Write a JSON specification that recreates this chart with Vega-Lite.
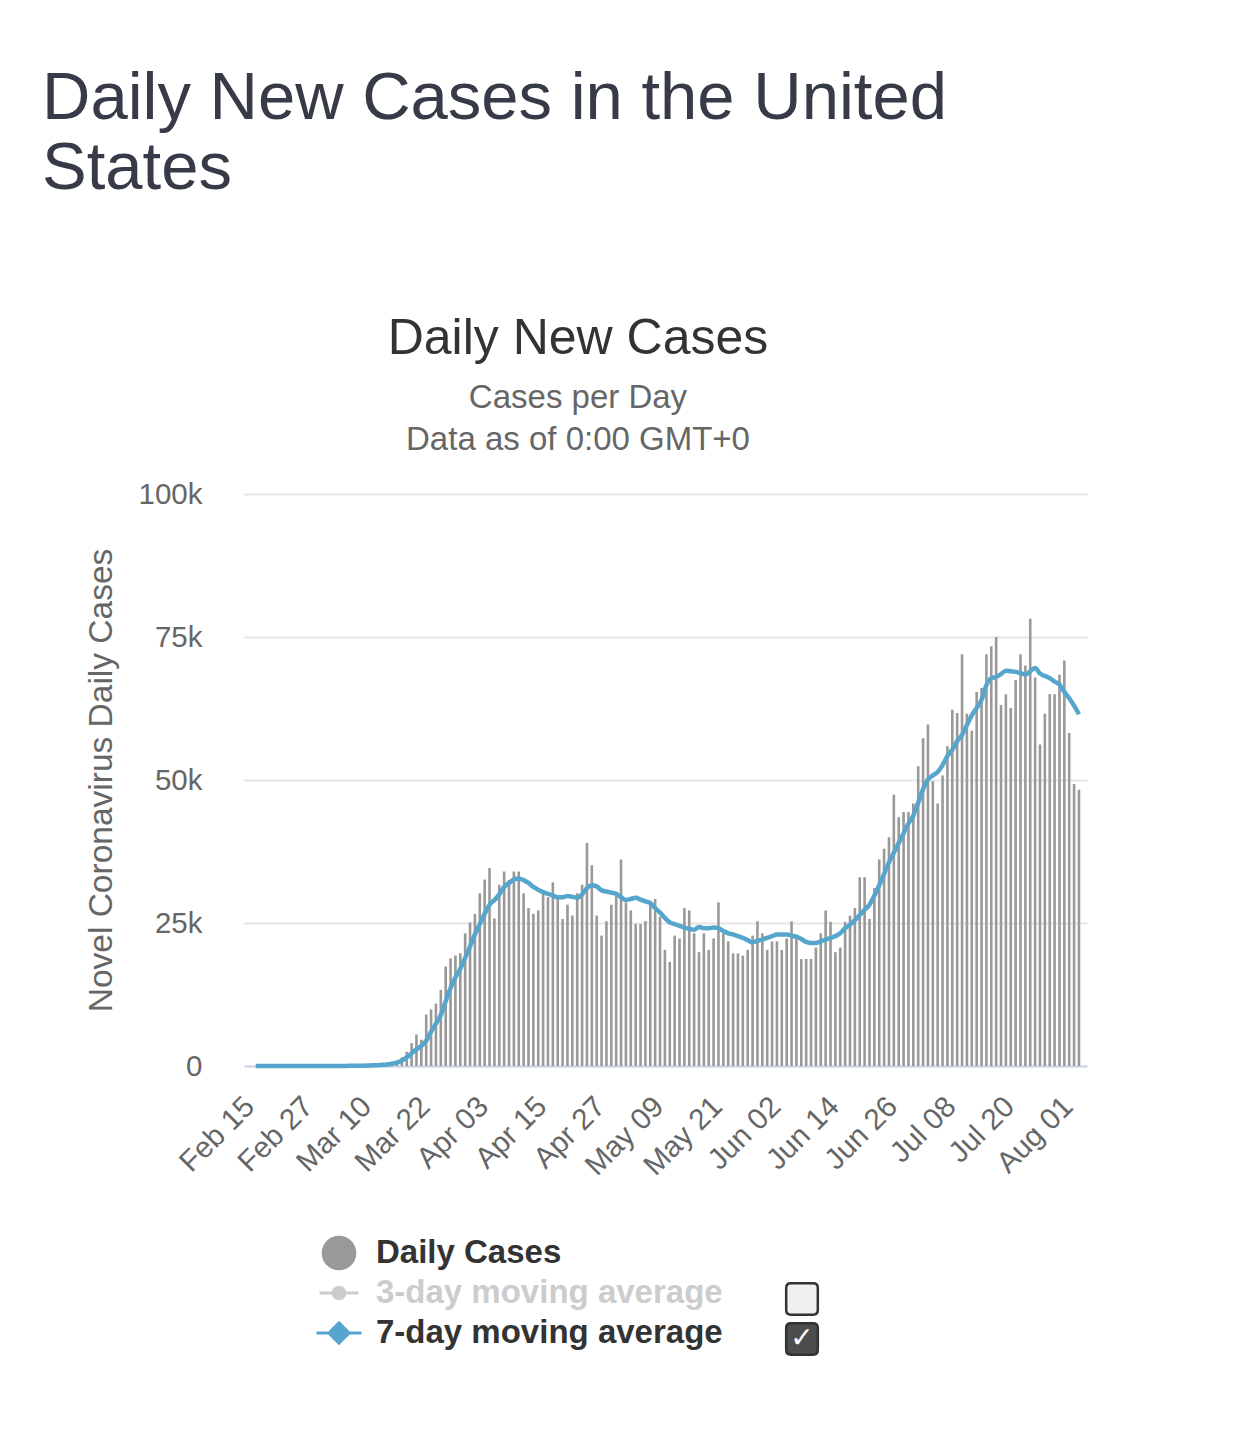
{
  "$schema": "https://vega.github.io/schema/vega-lite/v6.json",
  "background": "white",
  "padding": {"left": 42, "top": 65, "right": 10, "bottom": 10},
  "config": {"font": "Liberation Sans", "view": {"stroke": null}},
  "title": {"text": ["Daily New Cases in the United", "States"], "anchor": "start", "frame": "bounds", "fontSize": 67, "fontWeight": "normal", "color": "#363b47", "lineHeight": 70, "offset": 111, "dx": -42},
  "spacing": 50,
  "vconcat": [
    {
      "width": 843,
      "height": 572,
      "title": {"text": "Daily New Cases", "subtitle": ["Cases per Day", "Data as of 0:00 GMT+0"], "anchor": "middle", "frame": "bounds", "dx": -8, "fontSize": 50, "fontWeight": "normal", "color": "#333333", "subtitleFontSize": 33, "subtitleColor": "#666666", "subtitleLineHeight": 42, "subtitlePadding": 18, "offset": 22},
      "data": {"values": [
        {"d":"2020-02-15","c":0,"a":0},{"d":"2020-02-16","c":0,"a":0},{"d":"2020-02-17","c":0,"a":0},{"d":"2020-02-18","c":0,"a":0},{"d":"2020-02-19","c":0,"a":0},
        {"d":"2020-02-20","c":2,"a":0},{"d":"2020-02-21","c":1,"a":0},{"d":"2020-02-22","c":0,"a":0},{"d":"2020-02-23","c":0,"a":0},{"d":"2020-02-24","c":18,"a":3},
        {"d":"2020-02-25","c":0,"a":3},{"d":"2020-02-26","c":6,"a":4},{"d":"2020-02-27","c":1,"a":4},{"d":"2020-02-28","c":1,"a":4},{"d":"2020-02-29","c":3,"a":4},
        {"d":"2020-03-01","c":8,"a":5},{"d":"2020-03-02","c":20,"a":8},{"d":"2020-03-03","c":24,"a":11},{"d":"2020-03-04","c":33,"a":14},{"d":"2020-03-05","c":77,"a":24},
        {"d":"2020-03-06","c":54,"a":32},{"d":"2020-03-07","c":103,"a":46},{"d":"2020-03-08","c":116,"a":61},{"d":"2020-03-09","c":121,"a":75},{"d":"2020-03-10","c":290,"a":110},
        {"d":"2020-03-11","c":330,"a":150},{"d":"2020-03-12","c":450,"a":200},{"d":"2020-03-13","c":600,"a":270},{"d":"2020-03-14","c":750,"a":400},{"d":"2020-03-15","c":1000,"a":600},
        {"d":"2020-03-16","c":1500,"a":950},{"d":"2020-03-17","c":2500,"a":1500},{"d":"2020-03-18","c":4000,"a":2200},{"d":"2020-03-19","c":5500,"a":2900},{"d":"2020-03-20","c":4600,"a":3500},
        {"d":"2020-03-21","c":9000,"a":4400},{"d":"2020-03-22","c":9900,"a":6000},{"d":"2020-03-23","c":10900,"a":7400},{"d":"2020-03-24","c":13300,"a":8900},{"d":"2020-03-25","c":17400,"a":11300},
        {"d":"2020-03-26","c":18800,"a":13600},{"d":"2020-03-27","c":19300,"a":15500},{"d":"2020-03-28","c":19700,"a":17000},{"d":"2020-03-29","c":23200,"a":18900},{"d":"2020-03-30","c":25100,"a":20900},
        {"d":"2020-03-31","c":26600,"a":23000},{"d":"2020-04-01","c":30200,"a":24800},{"d":"2020-04-02","c":32600,"a":26600},{"d":"2020-04-03","c":34600,"a":28200},{"d":"2020-04-04","c":25800,"a":29000},
        {"d":"2020-04-05","c":31700,"a":30000},{"d":"2020-04-06","c":34000,"a":31300},{"d":"2020-04-07","c":32500,"a":32000},{"d":"2020-04-08","c":34000,"a":32600},{"d":"2020-04-09","c":34000,"a":32800},
        {"d":"2020-04-10","c":30200,"a":32500},{"d":"2020-04-11","c":27600,"a":32000},{"d":"2020-04-12","c":26600,"a":31300},{"d":"2020-04-13","c":27200,"a":30800},{"d":"2020-04-14","c":30200,"a":30400},
        {"d":"2020-04-15","c":29500,"a":30100},{"d":"2020-04-16","c":32100,"a":29800},{"d":"2020-04-17","c":29200,"a":29500},{"d":"2020-04-18","c":25700,"a":29500},{"d":"2020-04-19","c":28200,"a":29700},
        {"d":"2020-04-20","c":26300,"a":29600},{"d":"2020-04-21","c":30200,"a":29400},{"d":"2020-04-22","c":31700,"a":30000},{"d":"2020-04-23","c":39000,"a":31100},{"d":"2020-04-24","c":35100,"a":31600},
        {"d":"2020-04-25","c":26300,"a":31400},{"d":"2020-04-26","c":22800,"a":30700},{"d":"2020-04-27","c":25300,"a":30500},{"d":"2020-04-28","c":28200,"a":30300},{"d":"2020-04-29","c":29700,"a":30100},
        {"d":"2020-04-30","c":36100,"a":29500},{"d":"2020-05-01","c":28600,"a":29000},{"d":"2020-05-02","c":27200,"a":29200},{"d":"2020-05-03","c":24800,"a":29400},{"d":"2020-05-04","c":24800,"a":29100},
        {"d":"2020-05-05","c":25300,"a":28800},{"d":"2020-05-06","c":28200,"a":28500},{"d":"2020-05-07","c":29200,"a":27600},{"d":"2020-05-08","c":26100,"a":26800},{"d":"2020-05-09","c":20300,"a":25900},
        {"d":"2020-05-10","c":18200,"a":25100},{"d":"2020-05-11","c":22800,"a":24800},{"d":"2020-05-12","c":22300,"a":24500},{"d":"2020-05-13","c":27600,"a":24200},{"d":"2020-05-14","c":27200,"a":24000},
        {"d":"2020-05-15","c":23200,"a":23800},{"d":"2020-05-16","c":19900,"a":24300},{"d":"2020-05-17","c":23200,"a":24100},{"d":"2020-05-18","c":20300,"a":24100},{"d":"2020-05-19","c":22300,"a":24200},
        {"d":"2020-05-20","c":28600,"a":24100},{"d":"2020-05-21","c":23200,"a":23600},{"d":"2020-05-22","c":21800,"a":23200},{"d":"2020-05-23","c":19700,"a":23000},{"d":"2020-05-24","c":19700,"a":22700},
        {"d":"2020-05-25","c":19300,"a":22400},{"d":"2020-05-26","c":20300,"a":22000},{"d":"2020-05-27","c":22800,"a":21600},{"d":"2020-05-28","c":25300,"a":21900},{"d":"2020-05-29","c":23200,"a":22100},
        {"d":"2020-05-30","c":20300,"a":22400},{"d":"2020-05-31","c":21800,"a":22700},{"d":"2020-06-01","c":21800,"a":23000},{"d":"2020-06-02","c":20300,"a":23000},{"d":"2020-06-03","c":22300,"a":23000},
        {"d":"2020-06-04","c":25300,"a":22800},{"d":"2020-06-05","c":22800,"a":22600},{"d":"2020-06-06","c":18700,"a":22200},{"d":"2020-06-07","c":18700,"a":21700},{"d":"2020-06-08","c":18700,"a":21500},
        {"d":"2020-06-09","c":20700,"a":21500},{"d":"2020-06-10","c":23200,"a":21800},{"d":"2020-06-11","c":27200,"a":22100},{"d":"2020-06-12","c":25200,"a":22400},{"d":"2020-06-13","c":19900,"a":22700},
        {"d":"2020-06-14","c":20700,"a":23200},{"d":"2020-06-15","c":25200,"a":24100},{"d":"2020-06-16","c":26300,"a":24700},{"d":"2020-06-17","c":27600,"a":25500},{"d":"2020-06-18","c":33000,"a":26400},
        {"d":"2020-06-19","c":33000,"a":27300},{"d":"2020-06-20","c":25700,"a":28200},{"d":"2020-06-21","c":31100,"a":29800},{"d":"2020-06-22","c":36100,"a":31600},{"d":"2020-06-23","c":38000,"a":33600},
        {"d":"2020-06-24","c":40000,"a":35600},{"d":"2020-06-25","c":47400,"a":37300},{"d":"2020-06-26","c":43500,"a":39000},{"d":"2020-06-27","c":44400,"a":40700},{"d":"2020-06-28","c":44400,"a":42400},
        {"d":"2020-06-29","c":45900,"a":43800},{"d":"2020-06-30","c":52400,"a":46000},{"d":"2020-07-01","c":57300,"a":48400},{"d":"2020-07-02","c":59700,"a":50100},{"d":"2020-07-03","c":49800,"a":50800},
        {"d":"2020-07-04","c":45900,"a":51400},{"d":"2020-07-05","c":50800,"a":52600},{"d":"2020-07-06","c":55900,"a":54200},{"d":"2020-07-07","c":62300,"a":55300},{"d":"2020-07-08","c":61700,"a":56800},
        {"d":"2020-07-09","c":72000,"a":57900},{"d":"2020-07-10","c":61600,"a":59600},{"d":"2020-07-11","c":58600,"a":61300},{"d":"2020-07-12","c":65400,"a":62600},{"d":"2020-07-13","c":66100,"a":64000},
        {"d":"2020-07-14","c":72000,"a":66600},{"d":"2020-07-15","c":73400,"a":67800},{"d":"2020-07-16","c":75000,"a":68000},{"d":"2020-07-17","c":63100,"a":68500},{"d":"2020-07-18","c":65000,"a":69100},
        {"d":"2020-07-19","c":62600,"a":69000},{"d":"2020-07-20","c":67500,"a":68900},{"d":"2020-07-21","c":72000,"a":68700},{"d":"2020-07-22","c":70000,"a":68400},{"d":"2020-07-23","c":78200,"a":69000},
        {"d":"2020-07-24","c":67900,"a":69600},{"d":"2020-07-25","c":56200,"a":68600},{"d":"2020-07-26","c":61600,"a":68200},{"d":"2020-07-27","c":65000,"a":67800},{"d":"2020-07-28","c":65000,"a":67200},
        {"d":"2020-07-29","c":68400,"a":66700},{"d":"2020-07-30","c":70900,"a":65400},{"d":"2020-07-31","c":58200,"a":64300},{"d":"2020-08-01","c":49300,"a":63000},{"d":"2020-08-02","c":48300,"a":61500}
      ]},
      "encoding": {
        "x": {
          "field": "d", "type": "temporal",
          "scale": {"type": "utc", "domain": [{"year": 2020, "month": 2, "date": 13, "hours": 15, "utc": true}, {"year": 2020, "month": 8, "date": 2, "hours": 15, "utc": true}]},
          "axis": {
            "title": null, "grid": false, "ticks": false, "format": "%b %d",
            "values": [
              {"year": 2020, "month": 2, "date": 15, "utc": true},
              {"year": 2020, "month": 2, "date": 27, "utc": true},
              {"year": 2020, "month": 3, "date": 10, "utc": true},
              {"year": 2020, "month": 3, "date": 22, "utc": true},
              {"year": 2020, "month": 4, "date": 3, "utc": true},
              {"year": 2020, "month": 4, "date": 15, "utc": true},
              {"year": 2020, "month": 4, "date": 27, "utc": true},
              {"year": 2020, "month": 5, "date": 9, "utc": true},
              {"year": 2020, "month": 5, "date": 21, "utc": true},
              {"year": 2020, "month": 6, "date": 2, "utc": true},
              {"year": 2020, "month": 6, "date": 14, "utc": true},
              {"year": 2020, "month": 6, "date": 26, "utc": true},
              {"year": 2020, "month": 7, "date": 8, "utc": true},
              {"year": 2020, "month": 7, "date": 20, "utc": true},
              {"year": 2020, "month": 8, "date": 1, "utc": true}
            ],
            "labelAngle": -45, "labelAlign": "right", "labelBaseline": "alphabetic", "labelFontSize": 29.5, "labelColor": "#666666", "labelPadding": 42,
            "labelOverlap": false, "labelFlush": false, "labelBound": false,
            "domainColor": "#ccd6eb", "domainWidth": 2
          }
        }
      },
      "layer": [
        {
          "mark": {"type": "bar", "color": "#999999", "width": 2.6},
          "encoding": {
            "y": {
              "field": "c", "type": "quantitative",
              "scale": {"domain": [0, 100000], "nice": false},
              "axis": {
                "title": "Novel Coronavirus Daily Cases", "titleFontSize": 33.5, "titleFontWeight": "normal", "titleColor": "#666666", "titlePadding": 20,
                "values": [0, 25000, 50000, 75000, 100000], "format": "~s", "labelExpr": "datum.value == 0 ? '0' : datum.label",
                "labelFontSize": 29.5, "labelColor": "#666666", "labelPadding": 42,
                "ticks": false, "domain": false, "gridColor": "#e6e6e6", "gridWidth": 2
              }
            }
          }
        },
        {
          "mark": {"type": "line", "color": "#55a5cd", "strokeWidth": 4.5, "interpolate": "monotone"},
          "encoding": {"y": {"field": "a", "type": "quantitative"}}
        }
      ]
    },
    {
      "width": 190,
      "height": 120,
      "data": {"values": [
        {"series": "Daily Cases", "rank": 1, "box": "none"},
        {"series": "3-day moving average", "rank": 2, "box": "off"},
        {"series": "7-day moving average", "rank": 3, "box": "on"}
      ]},
      "encoding": {
        "y": {"field": "series", "type": "nominal", "sort": {"field": "rank"}, "axis": null, "scale": {"paddingInner": 0, "paddingOuter": 0}}
      },
      "layer": [
        {
          "mark": {"type": "point", "filled": true, "strokeWidth": 3, "opacity": 1},
          "encoding": {
            "shape": {"field": "series", "type": "nominal", "legend": null, "scale": {"domain": ["Daily Cases", "3-day moving average", "7-day moving average"], "range": ["circle", "M-1,0L1,0M0.3,0A0.3,0.3,0,1,1,-0.3,0A0.3,0.3,0,1,1,0.3,0Z", "M-1,0L1,0M0,-0.45L0.45,0L0,0.45L-0.45,0Z"]}},
            "size": {"field": "series", "type": "ordinal", "legend": null, "scale": {"domain": ["Daily Cases", "3-day moving average", "7-day moving average"], "range": [1000, 2025, 2025]}},
            "fill": {"field": "series", "type": "nominal", "legend": null, "scale": {"domain": ["Daily Cases", "3-day moving average", "7-day moving average"], "range": ["#999999", "#cccccc", "#55a5cd"]}},
            "stroke": {"field": "series", "type": "nominal", "legend": null, "scale": {"domain": ["Daily Cases", "3-day moving average", "7-day moving average"], "range": ["#999999", "#cccccc", "#55a5cd"]}}
          }
        },
        {
          "mark": {"type": "text", "align": "left", "baseline": "middle", "dx": 37, "fontSize": 33, "fontWeight": "bold"},
          "encoding": {
            "text": {"field": "series"},
            "color": {"field": "series", "type": "nominal", "legend": null, "scale": {"domain": ["Daily Cases", "3-day moving average", "7-day moving average"], "range": ["#333333", "#cccccc", "#333333"]}}
          }
        },
        {
          "transform": [{"filter": "datum.box != 'none'"}],
          "mark": {"type": "point", "shape": "M-0.7,-1L0.7,-1Q1,-1,1,-0.7L1,0.7Q1,1,0.7,1L-0.7,1Q-1,1,-1,0.7L-1,-0.7Q-1,-1,-0.7,-1Z", "size": 1000, "stroke": "#333333", "strokeWidth": 2.5, "opacity": 1, "xOffset": 463, "yOffset": 6},
          "encoding": {
            "fill": {"field": "box", "type": "nominal", "legend": null, "scale": {"domain": ["off", "on"], "range": ["#f0f0f0", "#4d4d4d"]}}
          }
        },
        {
          "transform": [{"filter": "datum.box == 'on'"}],
          "mark": {"type": "text", "dx": 463, "dy": 6, "align": "center", "baseline": "middle", "fontSize": 28, "fontWeight": "bold", "color": "#ffffff", "font": "DejaVu Sans"},
          "encoding": {"text": {"value": "✓"}}
        }
      ],
      "resolve": {"scale": {"fill": "independent", "color": "independent"}}
    }
  ]
}
